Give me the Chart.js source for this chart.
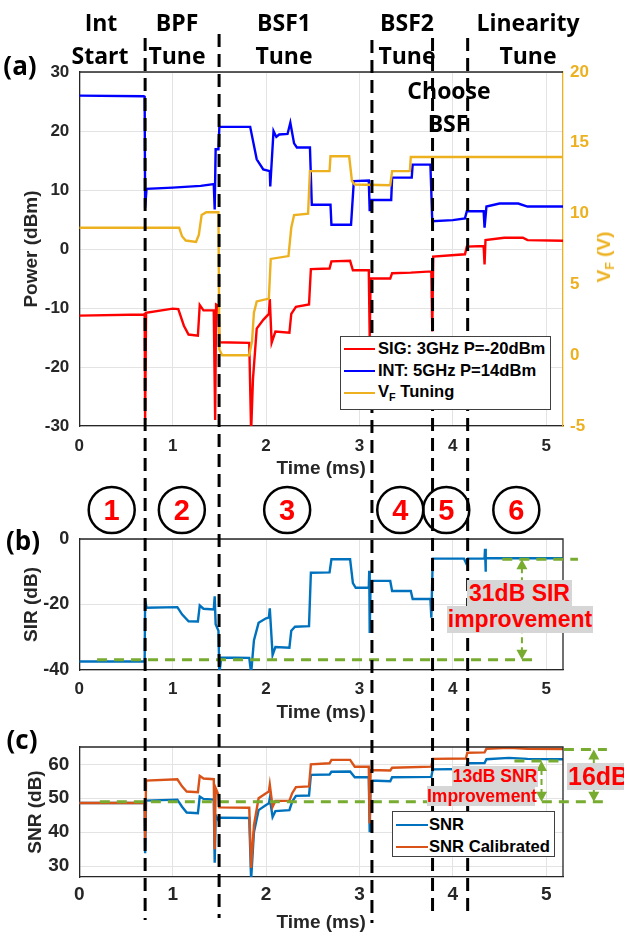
<!DOCTYPE html>
<html>
<head>
<meta charset="utf-8">
<script src="https://cdn.jsdelivr.net/npm/chart.js@4.4.0/dist/chart.umd.min.js"></script>
<style>
  html, body { margin: 0; padding: 0; background: #fff; }
  #fig { position: relative; width: 624px; height: 935px; overflow: hidden; }
  #fig canvas { position: absolute; left: 0; top: 0; }
  .t { position: absolute; white-space: nowrap; transform: translate(-50%, -50%); }
  .stage { font: 700 23px "Open Sans", sans-serif; color: #000; }
  .panel { font: 700 26px "Open Sans", sans-serif; color: #000; }
  .num { font: 700 29px "Liberation Sans", Arial, sans-serif; color: #f00; }
  .note { position: absolute; text-align: center; white-space: nowrap;
          font-family: "Liberation Sans", Arial, sans-serif; font-weight: 700;
          color: #f00; background: #d6d6d6; }
  .legend { position: absolute; background: #fff; border: 1.5px solid #404040; box-sizing: border-box;
            font: 700 16.6px "Liberation Sans", Arial, sans-serif; color: #000; }
  .legend .txt { position: absolute; transform: translateY(-50%); white-space: nowrap; }
  .legend .sw { position: absolute; height: 2px; }
  .vtitle { position: absolute; white-space: nowrap; transform: translate(-50%, -50%) rotate(-90deg);
            font: 700 19px "Liberation Sans", Arial, sans-serif; color: #EDB120; }
  sub { font-size: 65%; vertical-align: -0.35em; line-height: 0; }
</style>
</head>
<body>
<div id="fig">
  <canvas id="chartC" width="624" height="935"></canvas>
  <canvas id="chartB" width="624" height="935"></canvas>
  <canvas id="chartA" width="624" height="935"></canvas>

  <div class="t stage" style="left:101px;top:22px">Int</div>
  <div class="t stage" style="left:100px;top:55px">Start</div>
  <div class="t stage" style="left:177px;top:22px">BPF</div>
  <div class="t stage" style="left:177px;top:55px">Tune</div>
  <div class="t stage" style="left:284px;top:22px">BSF1</div>
  <div class="t stage" style="left:284px;top:55px">Tune</div>
  <div class="t stage" style="left:407px;top:22px">BSF2</div>
  <div class="t stage" style="left:407px;top:55px">Tune</div>
  <div class="t stage" style="left:528px;top:22px">Linearity</div>
  <div class="t stage" style="left:528px;top:55px">Tune</div>
  <div class="t stage" style="left:449px;top:90px">Choose</div>
  <div class="t stage" style="left:448px;top:123px">BSF</div>

  <div class="t panel" style="left:20px;top:65px">(a)</div>
  <div class="t panel" style="left:23px;top:540px">(b)</div>
  <div class="t panel" style="left:22px;top:739px">(c)</div>

  <div class="vtitle" style="left:604px;top:257px">V<sub>F</sub> (V)</div>

  <div id="nums"></div>

  <div class="legend" style="left:340px;top:336px;width:211px;height:74px">
    <div class="sw" style="left:3px;top:11px;width:31px;background:#ff0000"></div>
    <div class="txt" style="left:37px;top:12px">SIG: 3GHz P=-20dBm</div>
    <div class="sw" style="left:3px;top:33px;width:31px;background:#0000ff"></div>
    <div class="txt" style="left:37px;top:34px">INT: 5GHz P=14dBm</div>
    <div class="sw" style="left:3px;top:55px;width:31px;background:#EDB120"></div>
    <div class="txt" style="left:37px;top:55px">V<sub>F</sub> Tuning</div>
  </div>

  <div class="legend" style="left:392px;top:811px;width:163px;height:46px">
    <div class="sw" style="left:3px;top:12px;width:32px;background:#0072BD"></div>
    <div class="txt" style="left:36px;top:13px">SNR</div>
    <div class="sw" style="left:3px;top:34px;width:32px;background:#D95319"></div>
    <div class="txt" style="left:36px;top:35px">SNR Calibrated</div>
  </div>

  <div class="note" style="left:467px;top:580px;width:105px;height:26px;line-height:26px;font-size:23px">31dB SIR</div>
  <div class="note" style="left:447px;top:606px;width:146px;height:27px;line-height:27px;font-size:23px">improvement</div>

  <div class="note" style="left:452px;top:766px;width:86px;height:21px;line-height:21px;font-size:17.5px">13dB SNR</div>
  <div class="note" style="left:427px;top:786px;width:108px;height:20px;line-height:20px;font-size:17.5px">Improvement</div>
  <div class="note" style="left:567px;top:763px;width:62px;height:27px;line-height:27px;font-size:25px;text-align:left;padding-left:1px">16dB</div>
</div>

<script>
// ---- data (time in ms) ----
const intTime = [0, 0.69, 0.70, 0.705, 0.72, 1.0, 1.3, 1.44, 1.45, 1.46, 1.49, 1.50, 1.83, 1.9, 1.97, 2.04, 2.045, 2.08, 2.11, 2.14, 2.23, 2.26, 2.30, 2.33, 2.47, 2.49, 2.69, 2.70, 2.91, 2.94, 3.10, 3.11, 3.12, 3.34, 3.35, 3.56, 3.57, 3.76, 3.78, 4.0, 4.13, 4.15, 4.33, 4.34, 4.36, 4.5, 4.7, 4.8, 5.18];
const intPower = [26, 25.9, 25.8, 7, 10.2, 10.4, 10.7, 11, 6.7, 16.9, 16.9, 20.7, 20.7, 15.2, 13.5, 13.2, 10.6, 20, 19.0, 19.4, 19.5, 21.4, 17.9, 17.2, 17.2, 7.5, 7.5, 4.1, 4.1, 11.5, 11.6, 6.4, 8.3, 8.3, 12.1, 12.1, 14.3, 14.3, 4.7, 4.9, 5.2, 6.4, 6.4, 3.6, 7.2, 7.7, 7.7, 7.2, 7.2];

const sigTime = [0, 0.69, 0.70, 0.705, 0.715, 1.0, 1.06, 1.12, 1.17, 1.27, 1.29, 1.33, 1.44, 1.455, 1.465, 1.49, 1.50, 1.82, 1.84, 1.86, 1.9, 1.97, 2.03, 2.04, 2.06, 2.10, 2.25, 2.27, 2.32, 2.46, 2.48, 2.68, 2.70, 2.90, 2.93, 3.10, 3.11, 3.12, 3.33, 3.35, 3.55, 3.77, 3.78, 3.79, 4.13, 4.15, 4.33, 4.34, 4.35, 4.55, 4.75, 4.8, 5.18];
const sigPower = [-11.3, -11.1, -11, -29, -10.8, -10.1, -10.2, -13, -14.5, -14.7, -9.5, -10.4, -10.4, -29, -9.4, -9.6, -15.8, -15.9, -31, -22, -13.5, -12, -11, -8.5, -15.9, -14, -14.2, -11, -9.8, -9.4, -3.4, -3.3, -2.1, -2.0, -3.6, -3.6, -15, -5, -5.0, -4.1, -4.0, -3.8, -14, -1.3, -0.9, 0.4, 0.5, -2.6, 1.5, 1.9, 1.9, 1.5, 1.4];

const vfTime = [0, 1.07, 1.10, 1.14, 1.25, 1.28, 1.31, 1.36, 1.49, 1.50, 1.53, 1.82, 1.85, 1.87, 1.9, 2.03, 2.05, 2.24, 2.27, 2.30, 2.45, 2.47, 2.68, 2.69, 2.89, 2.92, 2.95, 3.33, 3.35, 3.54, 3.55, 5.18];
const vfVolt = [9.0, 9.0, 8.4, 8.1, 8.0, 8.5, 9.9, 10.1, 10.1, 0.4, 0.0, 0.0, 1.0, 3.0, 3.8, 4.0, 6.8, 7.0, 9.0, 9.9, 10.0, 13.0, 13.0, 14.05, 14.05, 12.3, 12.05, 12.0, 13.0, 13.0, 14.0, 14.0];

const sirTime = [0, 0.69, 0.70, 0.705, 0.72, 1.05, 1.1, 1.17, 1.27, 1.29, 1.33, 1.44, 1.45, 1.46, 1.49, 1.50, 1.52, 1.82, 1.84, 1.87, 1.92, 2.0, 2.03, 2.04, 2.07, 2.10, 2.25, 2.27, 2.31, 2.46, 2.48, 2.68, 2.70, 2.90, 2.93, 2.96, 3.10, 3.105, 3.11, 3.12, 3.33, 3.35, 3.55, 3.57, 3.76, 3.77, 3.785, 4.12, 4.14, 4.16, 4.34, 4.345, 4.35, 4.355, 5.18];
const sirValue = [-37.4, -37.4, -37.2, -18.5, -21, -20.8, -23, -25.1, -25.2, -20.3, -21.3, -21.5, -17.5, -26, -28, -41, -36.2, -36.3, -41, -31, -25.6, -24.2, -24, -21.2, -35.4, -33.0, -33.2, -28, -26.8, -26.6, -10.3, -10.2, -6.2, -6.2, -13.5, -14.9, -14.8, -9.7, -28.7, -12.8, -12.8, -15.9, -15.9, -18.3, -18.3, -24, -6.0, -6.0, -7.2, -6.0, -6.0, -3, -10, -5.9, -5.9];

const snrTime = [0, 0.69, 0.70, 0.705, 0.715, 1.05, 1.1, 1.15, 1.27, 1.29, 1.33, 1.44, 1.45, 1.46, 1.49, 1.50, 1.82, 1.84, 1.87, 1.92, 2.0, 2.03, 2.04, 2.07, 2.10, 2.25, 2.28, 2.32, 2.46, 2.48, 2.68, 2.70, 2.90, 2.95, 3.10, 3.11, 3.12, 3.33, 3.35, 3.77, 3.785, 4.14, 4.155, 4.34, 4.36, 4.6, 4.8, 5.18];
const snrValue = [48.6, 48.6, 48.5, 33.8, 49.3, 49.6, 47.5, 45.8, 45.6, 50.5, 49.8, 49.6, 31, 45, 43.5, 44.3, 44.2, 26, 40, 46.5, 48, 48.5, 50, 44.5, 46.2, 46.5, 49, 50.7, 50.8, 56.9, 57.0, 57.8, 57.9, 56.2, 56.2, 40, 55.2, 55.0, 56.2, 56.3, 58.5, 58.6, 60.3, 60.4, 61.5, 61.9, 61.6, 61.5];
const snrCalValue = [48.6, 48.6, 48.5, 38, 55.2, 55.6, 53.5, 52, 51.8, 56.6, 55.8, 55.6, 35, 53, 51, 47.3, 47.2, 29.5, 42, 50, 51.5, 52, 54, 47.5, 49.2, 49.3, 51.5, 53.3, 53.5, 60.0, 60.3, 61.3, 61.3, 59.3, 59.3, 42.6, 58.3, 58.2, 59.0, 59.3, 61.6, 61.7, 63.4, 63.5, 64.6, 64.9, 64.6, 64.5];

// stage boundaries (dashed lines) and stage centres (numbered circles)
const stageBounds = [0.705, 1.497, 3.134, 3.783, 4.159];
const stageMid = [0.347, 1.098, 2.226, 3.437, 3.93, 4.68];
const stageNames = ['1', '2', '3', '4', '5', '6'];

// improvement markers
const sirFloor = -36.9, sirBest = -6.2;
const snrFloor = 49, snrBest = 61, snrCalBest = 64.4;

const pts = (t, v) => t.map((x, i) => ({x: x, y: v[i]}));
const AX = '#262626', GRID = '#e3e3e3', GREEN = '#77AC30';
Chart.defaults.font.family = '"Liberation Sans", Arial, sans-serif';

function line(label, data, color, axis) {
  return { label, data, borderColor: color, borderWidth: 2.4, pointRadius: 0, tension: 0, fill: false, yAxisID: axis || 'y' };
}

function xAxis(size, pad, height) {
  return {
    type: 'linear', min: 0, max: 5.18,
    ticks: { stepSize: 1, includeBounds: false, padding: pad, color: AX, font: { size, weight: 'bold' } },
    grid: { color: GRID, drawTicks: false },
    border: { color: AX, width: 1.3 },
    title: { display: true, text: 'Time (ms)', color: AX, font: { size: 19, weight: 'bold' }, padding: 0 },
    afterFit(s) { s.height = height; }
  };
}

function yAxis(min, max, step, size, title, titlePad) {
  return {
    min, max,
    ticks: { stepSize: step, includeBounds: false, padding: 10, color: AX, font: { size, weight: 'bold' } },
    grid: { color: GRID, drawTicks: false },
    border: { color: AX, width: 1.3 },
    title: { display: true, text: title, color: AX, font: { size: 19, weight: 'bold' }, padding: { top: titlePad, bottom: 0 } },
    afterFit(s) { s.width = 79.3; }
  };
}

function frame(ctx, a, right) {
  ctx.save();
  ctx.strokeStyle = AX;
  ctx.lineWidth = 1.3;
  ctx.beginPath();
  ctx.moveTo(a.left, a.top);
  ctx.lineTo(a.right, a.top);
  if (right) ctx.lineTo(a.right, a.bottom);
  ctx.stroke();
  ctx.restore();
}

function greenLine(ctx, xs, ys, x0, x1, y) {
  const py = ys.getPixelForValue(y);
  ctx.beginPath();
  ctx.moveTo(xs.getPixelForValue(x0), py);
  ctx.lineTo(xs.getPixelForValue(x1), py);
  ctx.stroke();
}

function greenArrow(ctx, xs, ys, x, yTop, yBot) {
  const px = xs.getPixelForValue(x), p0 = ys.getPixelForValue(yTop), p1 = ys.getPixelForValue(yBot);
  ctx.save();
  ctx.lineWidth = 2;
  ctx.setLineDash([6, 4]);
  ctx.beginPath();
  ctx.moveTo(px, p0 + 8);
  ctx.lineTo(px, p1 - 8);
  ctx.stroke();
  ctx.setLineDash([]);
  ctx.beginPath();
  ctx.moveTo(px, p0); ctx.lineTo(px - 5.5, p0 + 10); ctx.lineTo(px + 5.5, p0 + 10); ctx.closePath();
  ctx.moveTo(px, p1); ctx.lineTo(px - 5.5, p1 - 10); ctx.lineTo(px + 5.5, p1 - 10); ctx.closePath();
  ctx.fill();
  ctx.restore();
}

function greenStyle(ctx) {
  ctx.strokeStyle = GREEN;
  ctx.fillStyle = GREEN;
  ctx.lineWidth = 3;
  ctx.setLineDash([10, 7]);
}

const base = {
  responsive: false, animation: false, events: [],
  plugins: { legend: { display: false }, tooltip: { enabled: false } }
};

// ---- (c) SNR ----
new Chart(document.getElementById('chartC'), {
  type: 'line',
  data: { datasets: [
    line('SNR Calibrated', pts(snrTime, snrCalValue), '#D95319'),
    line('SNR', pts(snrTime, snrValue), '#0072BD')
  ] },
  options: Object.assign({}, base, {
    layout: { padding: { top: 747, bottom: 1.1, left: 0, right: 61 } },
    scales: { x: xAxis(19, 6.6, 56.9), y: yAxis(26.8, 65.1, 10, 19, 'SNR (dB)', 24) }
  }),
  plugins: [{
    id: 'snrMarks',
    afterDraw(chart) {
      const { ctx, chartArea, scales: { x, y } } = chart;
      frame(ctx, chartArea, true);
      ctx.save();
      greenStyle(ctx);
      greenLine(ctx, x, y, 0.22, 5.65, snrFloor);
      greenLine(ctx, x, y, 4.66, 5.19, snrBest);
      greenLine(ctx, x, y, 5.19, 5.65, snrCalBest);
      greenArrow(ctx, x, y, 4.95, snrBest, snrFloor);
      greenArrow(ctx, x, y, 5.51, snrCalBest, snrFloor);
      ctx.restore();
    }
  }]
});

// ---- (b) SIR ----
new Chart(document.getElementById('chartB'), {
  type: 'line',
  data: { datasets: [ line('SIR', pts(sirTime, sirValue), '#0072BD') ] },
  options: Object.assign({}, base, {
    layout: { padding: { top: 539, bottom: 935 - 724.4, left: 0, right: 61 } },
    scales: { x: xAxis(17, 8.8, 54.4), y: yAxis(-40, 0, 20, 18, 'SIR (dB)', 20) }
  }),
  plugins: [{
    id: 'sirMarks',
    afterDraw(chart) {
      const { ctx, chartArea, scales: { x, y } } = chart;
      frame(ctx, chartArea, true);
      ctx.save();
      greenStyle(ctx);
      greenLine(ctx, x, y, 0.19, 4.9, sirFloor);
      greenLine(ctx, x, y, 4.53, 5.34, sirBest);
      greenArrow(ctx, x, y, 4.74, sirBest, sirFloor);
      ctx.restore();
    }
  }]
});

// ---- (a) power + tuning voltage, with stage markers across the figure ----
const yA = yAxis(-30, 30, 10, 17, 'Power (dBm)', 20);
const chartA = new Chart(document.getElementById('chartA'), {
  type: 'line',
  data: { datasets: [
    line('V_F Tuning', pts(vfTime, vfVolt), '#EDB120', 'y1'),
    line('INT: 5GHz P=14dBm', pts(intTime, intPower), '#0000ff'),
    line('SIG: 3GHz P=-20dBm', pts(sigTime, sigPower), '#ff0000')
  ] },
  options: Object.assign({}, base, {
    layout: { padding: { top: 72, bottom: 935 - 480.4, left: 0, right: 0 } },
    scales: {
      x: xAxis(17, 10.5, 54.4),
      y: yA,
      y1: {
        position: 'right', min: -5, max: 20,
        ticks: { stepSize: 5, padding: 7, color: '#EDB120', font: { size: 17, weight: 'bold' } },
        grid: { drawOnChartArea: false, drawTicks: false },
        border: { color: '#EDB120', width: 1.3 },
        afterFit(s) { s.width = 61; }
      }
    }
  }),
  plugins: [{
    id: 'stages',
    afterDraw(chart) {
      const { ctx, chartArea, scales: { x } } = chart;
      frame(ctx, chartArea, false);
      const tops = [38, 34, 40, 38, 38], bottoms = [920, 918, 923, 913, 913];
      ctx.save();
      ctx.strokeStyle = '#000';
      ctx.lineWidth = 3;
      ctx.setLineDash([13, 7]);
      stageBounds.forEach((v, i) => {
        const px = x.getPixelForValue(v);
        ctx.beginPath();
        ctx.moveTo(px, tops[i]);
        ctx.lineTo(px, bottoms[i]);
        ctx.stroke();
      });
      ctx.setLineDash([]);
      ctx.lineWidth = 2.5;
      stageMid.forEach(v => {
        ctx.beginPath();
        ctx.ellipse(x.getPixelForValue(v), 510, 23, 23, 0, 0, Math.PI * 2);
        ctx.stroke();
      });
      ctx.restore();
    }
  }]
});

// numbers inside the stage circles, placed through the x scale
const nums = document.getElementById('nums');
stageMid.forEach((v, i) => {
  const d = document.createElement('div');
  d.className = 't num';
  d.style.left = chartA.scales.x.getPixelForValue(v) + 'px';
  d.style.top = '510px';
  d.textContent = stageNames[i];
  nums.appendChild(d);
});
</script>
</body>
</html>
